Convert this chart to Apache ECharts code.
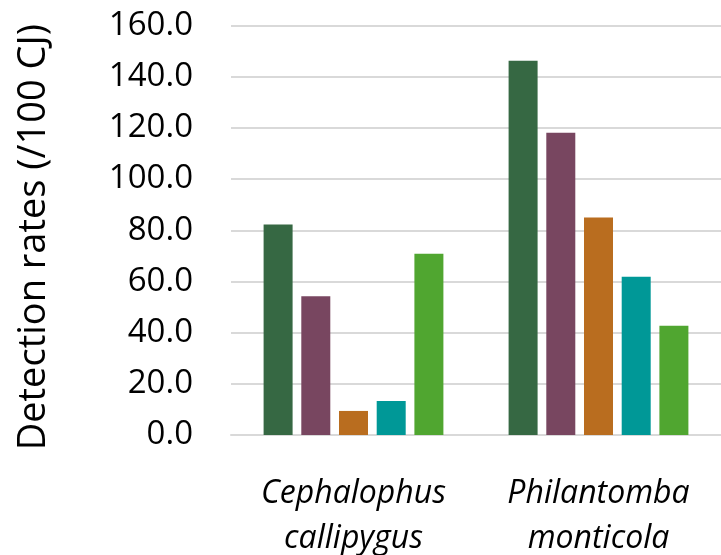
<!DOCTYPE html>
<html>
<head>
<meta charset="utf-8">
<script src="https://cdn.jsdelivr.net/npm/echarts@6/dist/echarts.min.js"></script>
<style>
  html, body { margin: 0; padding: 0; background: #fff; }
  #chart { width: 721px; height: 555px; }
</style>
</head>
<body>
<div id="chart"></div>
<script>
// categories (species) and one array per bar colour
var categories = ["Cephalophus\ncallipygus", "Philantomba\nmonticola"];
var series1 = [82.2, 146.2];
var series2 = [54.2, 118.1];
var series3 = [9.4, 85.0];
var series4 = [13.3, 61.8];
var series5 = [70.8, 42.7];
var yTicks = [0, 20, 40, 60, 80, 100, 120, 140, 160];

var colors = ["#366843", "#784660", "#b96d1f", "#009897", "#50a630"];
var allSeries = [series1, series2, series3, series4, series5];

var chart = echarts.init(document.getElementById("chart"));

var option = {
  animation: false,
  color: colors,
  grid: { left: 231, right: 0, top: 25.5, bottom: 120, outerBoundsMode: "none" },
  xAxis: {
    type: "category",
    data: categories,
    axisLine: { show: true, lineStyle: { color: "#d9d9d9", width: 2 } },
    axisTick: { show: false },
    axisLabel: {
      margin: 36,
      fontFamily: "Open Sans",
      fontStyle: "italic",
      fontSize: 32,
      lineHeight: 45,
      color: "#000"
    }
  },
  yAxis: {
    type: "value",
    min: yTicks[0],
    max: yTicks[yTicks.length - 1],
    interval: 20,
    name: "Detection rates (/100 CJ)",
    nameLocation: "middle",
    nameGap: 178,
    nameTextStyle: {
      fontFamily: "Open Sans",
      fontSize: 38,
      color: "#000",
      padding: [0, 14, 0, 0]
    },
    axisLine: { show: false },
    axisTick: { show: false },
    splitLine: { lineStyle: { color: "#d9d9d9", width: 2 } },
    axisLabel: {
      margin: 38,
      fontFamily: "Open Sans",
      fontSize: 33,
      color: "#000",
      formatter: function (v) { return v.toFixed(1); }
    }
  },
  series: allSeries.map(function (d, i) {
    return {
      type: "bar",
      data: d,
      barWidth: 29,
      barGap: "30%",
      itemStyle: { color: colors[i] }
    };
  })
};

chart.setOption(option);
</script>
</body>
</html>
